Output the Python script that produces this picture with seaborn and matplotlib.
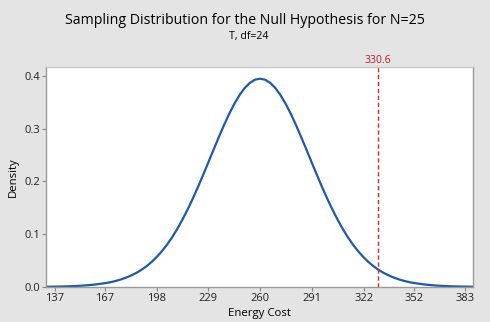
import matplotlib
matplotlib.use("Agg")
import matplotlib.pyplot as plt
import seaborn as sns
import pandas as pd

# t(24) density, x expressed in energy-cost units
energy_cost = [129.33, 136.50, 142.67, 148.84, 155.01, 161.18, 167.35, 170.44, 173.52, 176.61,
               179.69, 182.78, 185.86, 188.95, 192.03, 195.12, 198.20, 201.29, 204.37, 207.46,
               210.54, 213.63, 216.71, 219.80, 222.88, 225.97, 229.05, 232.14, 235.22, 238.31,
               241.39, 244.48, 247.56, 250.65, 253.73, 256.82, 259.90, 262.99, 266.07, 269.16,
               272.24, 275.33, 278.41, 281.50, 284.58, 287.67, 290.75, 293.84, 296.92, 300.01,
               303.09, 306.18, 309.26, 312.35, 315.43, 318.52, 321.60, 324.69, 327.77, 330.86,
               333.94, 337.03, 340.11, 343.20, 346.28, 349.37, 352.45, 358.62, 364.79, 370.96,
               377.13, 383.30, 389.47]
density = [0.0004, 0.0007, 0.0011, 0.0018, 0.0029, 0.0047, 0.0074, 0.0092, 0.0115, 0.0143,
           0.0178, 0.0219, 0.0268, 0.0327, 0.0397, 0.0479, 0.0575, 0.0685, 0.0810, 0.0953,
           0.1112, 0.1289, 0.1480, 0.1686, 0.1906, 0.2135, 0.2370, 0.2607, 0.2841, 0.3067,
           0.3278, 0.3468, 0.3633, 0.3768, 0.3867, 0.3928, 0.3948, 0.3928, 0.3867, 0.3768,
           0.3633, 0.3468, 0.3278, 0.3067, 0.2841, 0.2607, 0.2370, 0.2135, 0.1906, 0.1686,
           0.1480, 0.1289, 0.1112, 0.0953, 0.0810, 0.0685, 0.0575, 0.0479, 0.0397, 0.0327,
           0.0268, 0.0219, 0.0178, 0.0143, 0.0115, 0.0092, 0.0074, 0.0047, 0.0029, 0.0018,
           0.0011, 0.0007, 0.0004]

x_ticks = [137, 167, 198, 229, 260, 291, 322, 352, 383]
y_ticks = [0.0, 0.1, 0.2, 0.3, 0.4]
observed = 330.6

sns.set_theme(style="white")
plt.rcParams["font.family"] = ["Open Sans", "DejaVu Sans"]

bg = "#e4e4e4"
fig = plt.figure(figsize=(4.9, 3.22), dpi=100, facecolor=bg)
ax = fig.add_axes([0.0939, 0.1087, 0.8714, 0.6817])
ax.set_facecolor("white")

df = pd.DataFrame({"Energy Cost": energy_cost, "Density": density})
sns.lineplot(data=df, x="Energy Cost", y="Density", ax=ax, color="#1e5aa8", linewidth=1.6)

ax.axvline(observed, color="#e0202a", linestyle=(0, (3, 2)), linewidth=1.0)
ax.text(observed, 0.419, f"{observed:.1f}", color="#a8202c", fontsize=7.5,
        ha="center", va="bottom")

ax.set_xlim(131.7, 387.5)
ax.set_ylim(0, 0.416)
ax.set_xticks(x_ticks)
ax.set_xticklabels([str(v) for v in x_ticks])
ax.set_yticks(y_ticks)
ax.set_yticklabels([f"{v:.1f}" for v in y_ticks])
ax.tick_params(axis="both", length=3, width=0.8, color="#888888", labelsize=8,
               labelcolor="#222222", pad=1.5, direction="out")
ax.tick_params(axis="x", bottom=True)
ax.tick_params(axis="y", left=True)

for name, sp in ax.spines.items():
    sp.set_linewidth(1.0)
    sp.set_color("#9a9a9a")
ax.spines["top"].set_color("#c8c8c8")

ax.set_xlabel("Energy Cost", fontsize=8.2, color="#000000", labelpad=3)
ax.set_ylabel("Density", fontsize=8.2, color="#000000", labelpad=4)

fig.text(0.5, 0.936, "Sampling Distribution for the Null Hypothesis for N=25",
         ha="center", va="center", fontsize=10.2, color="#000000")
fig.text(0.507, 0.888, "T, df=24", ha="center", va="center", fontsize=7.6, color="#000000")

fig.savefig("out.png", dpi=100, facecolor=bg)
